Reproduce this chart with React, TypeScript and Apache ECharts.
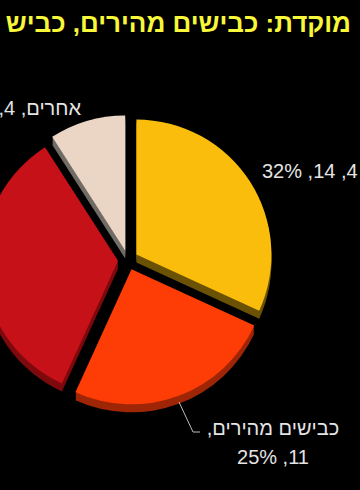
import React, { useEffect, useRef } from "react";
import * as echarts from "echarts";

const titleText = "מוקדת: כבישים מהירים, כביש";
const categories = ["כביש 4", "כבישים מהירים", "כבישים עירוניים", "אחרים"];
const values = [14, 11, 15, 4];
const faceColors = ["#FABD0B", "#FE3C06", "#C71119", "#EBD6C6"];
const sideColors = ["#6B5204", "#9E2606", "#7E0A0E", "#726C66"];

const RLE = "\u202B";
const PDF = "\u202C";

const CX = 128;
const CY = 260;
const R = 135;
const DEPTH_STEPS = [8, 6, 4, 2];

const LABEL_FONT = "Liberation Sans, Arial, sans-serif";
const LABEL_COLOR = "#E4E4E4";

export default function App() {
  const ref = useRef<HTMLDivElement>(null);

  useEffect(() => {
    if (!ref.current) return;
    const chart = echarts.init(ref.current, undefined, { renderer: "svg" });

    const total = values.reduce((a, b) => a + b, 0);
    const pct = values.map((v) => Math.round((v / total) * 100));
    const oneLine = (i: number) =>
      `${RLE}${categories[i]}, ${values[i]}, ${pct[i]}%${PDF}`;
    const twoLines = (i: number) =>
      `${RLE}${categories[i]},${PDF}\n${RLE}${values[i]}, ${pct[i]}%${PDF}`;

    const depthSeries = DEPTH_STEPS.map((d) => ({
      type: "pie",
      silent: true,
      center: [CX, CY + d],
      radius: R,
      startAngle: 90,
      clockwise: true,
      selectedMode: "multiple",
      selectedOffset: 10,
      label: { show: false },
      labelLine: { show: false },
      emphasis: { disabled: true },
      data: categories.map((name, i) => ({
        name,
        value: values[i],
        selected: true,
        itemStyle: { color: sideColors[i] },
      })),
    }));

    const frontSeries = {
      type: "pie",
      silent: true,
      center: [CX, CY],
      radius: R,
      startAngle: 90,
      clockwise: true,
      selectedMode: "multiple",
      selectedOffset: 10,
      label: { show: false },
      labelLine: { show: false },
      emphasis: { disabled: true },
      data: categories.map((name, i) => ({
        name,
        value: values[i],
        selected: true,
        itemStyle: { color: faceColors[i] },
      })),
    };

    const labelStyle = {
      fill: LABEL_COLOR,
      fontFamily: LABEL_FONT,
      fontSize: 20,
      lineHeight: 29,
    };

    chart.setOption({
      animation: false,
      backgroundColor: "#000000",
      title: {
        text: `${RLE}${titleText}${PDF}`,
        right: 4,
        top: 5,
        textStyle: {
          color: "#F8F838",
          fontFamily: "Liberation Sans, Arial, sans-serif",
          fontWeight: "bold",
          fontSize: 26,
        },
      },
      graphic: [
        {
          type: "text",
          z: 100,
          x: 262,
          y: 171,
          style: {
            ...labelStyle,
            text: oneLine(0),
            align: "left",
            verticalAlign: "middle",
          },
        },
        {
          type: "text",
          z: 100,
          x: 273,
          y: 442,
          style: {
            ...labelStyle,
            text: twoLines(1),
            align: "center",
            verticalAlign: "middle",
          },
        },
        {
          type: "text",
          z: 100,
          x: 81,
          y: 108,
          style: {
            ...labelStyle,
            text: oneLine(3),
            align: "right",
            verticalAlign: "middle",
          },
        },
        {
          type: "polyline",
          z: 100,
          shape: {
            points: [
              [179, 402],
              [193, 432],
              [200, 432],
            ],
          },
          style: { stroke: "#BDBDBD", lineWidth: 1, fill: "none" },
        },
      ],
      series: [...depthSeries, frontSeries],
    });

    return () => chart.dispose();
  }, []);

  return (
    <div
      ref={ref}
      style={{ position: "fixed", left: 0, top: 0, width: 360, height: 490 }}
    />
  );
}
